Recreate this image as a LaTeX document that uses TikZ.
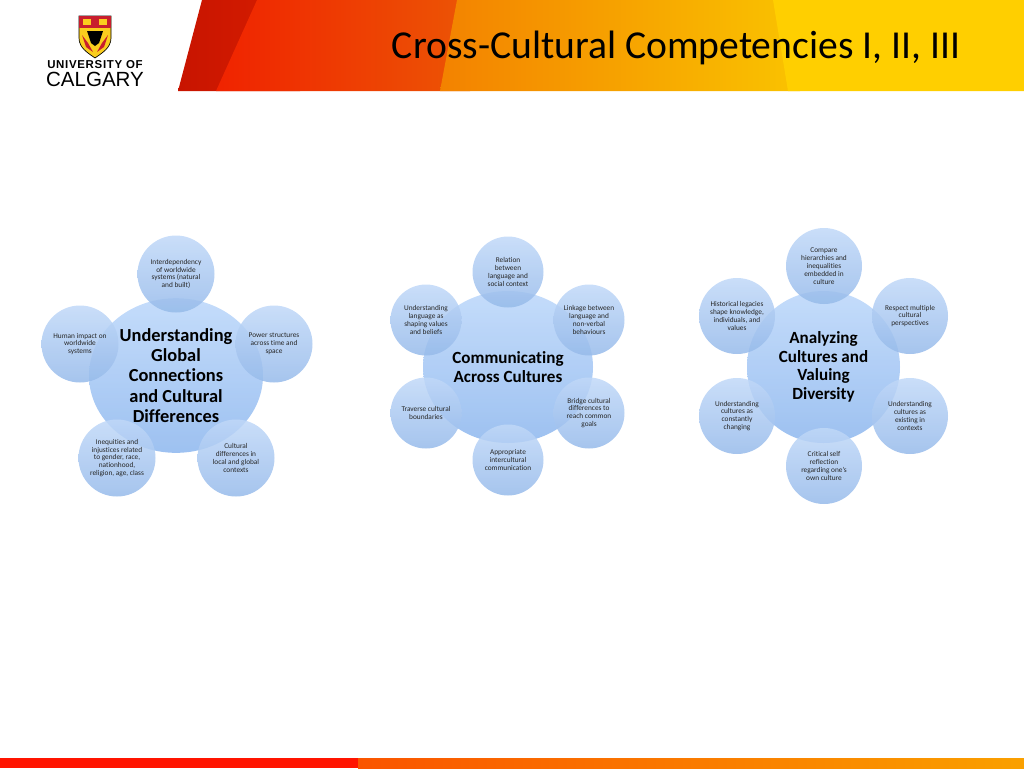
\documentclass[tikz,border=0pt]{standalone}
\usepackage{fontspec}
\setmainfont{Carlito}[Ligatures=NoCommon]
\newfontfamily\logofont{Liberation Sans}
\newfontfamily\logotrack{Liberation Sans}[LetterSpace=6]
\usepackage{tikz}
\usetikzlibrary{shapes.geometric}

\definecolor{sattop}{RGB}{192,216,248}
\definecolor{satbot}{RGB}{150,186,234}
\definecolor{hubtop}{RGB}{186,214,250}
\definecolor{hubbot}{RGB}{140,182,238}
\definecolor{logored}{RGB}{200,30,45}
\definecolor{logoyel}{RGB}{250,205,30}

\tikzset{
  satnode/.style={circle, inner sep=0pt, align=center, text=black!85,
    top color=sattop, bottom color=satbot, fill opacity=0.85, text opacity=1,
    font=\fontsize{5.5}{5.9}\selectfont},
  hubnode/.style={ellipse, inner sep=0pt, align=center, text=black,
    top color=hubtop, bottom color=hubbot, fill opacity=0.85, text opacity=1,
    font=\bfseries\fontsize{13.8}{15.2}\selectfont},
  smallhub/.style={hubnode, font=\bfseries\fontsize{12.8}{14}\selectfont},
  bigsat/.style={satnode, minimum size=57.75pt},
  midsat/.style={satnode, minimum size=53.25pt},
  rgtsat/.style={satnode, minimum size=57pt},
}

\begin{document}
\begin{tikzpicture}[x=0.75pt,y=-0.75pt]
\useasboundingbox (0,0) rectangle (1024,768);

%% banner
\shade[left color={rgb,255:red,200;green,20;blue,0}, right color={rgb,255:red,215;green,30;blue,0}]
  (178,91) -- (202,0) -- (300,0) -- (300,91) -- cycle;
\shade[left color={rgb,255:red,240;green,35;blue,0}, right color={rgb,255:red,236;green,85;blue,5}]
  (216,91) -- (257,0) -- (470,0) -- (470,91) -- cycle;
\shade[left color={rgb,255:red,243;green,130;blue,0}, right color={rgb,255:red,250;green,195;blue,0}]
  (440,91) -- (457,0) -- (800,0) -- (800,91) -- cycle;
\fill[color={rgb,255:red,255;green,207;blue,0}] (788,91) -- (773,0) -- (1024,0) -- (1024,91) -- cycle;
\node (title) at (676,48) {\fontsize{29.7}{31}\selectfont Cross-Cultural Competencies I, II, III};

%% logo
\draw[fill=logoyel, line width=0.5pt] (79,16) -- (111,16) -- (111,38) .. controls (111,48) and (102,53) .. (95,58)
  .. controls (88,53) and (79,48) .. (79,38) -- cycle;
\fill[logored] (79,16) -- (111,16) -- (111,28) -- (79,28) -- cycle;
\fill[logoyel] (83,19) rectangle (91,25);
\fill[logoyel] (99,19) rectangle (107,25);
\fill[black] (87,31) -- (103,31) -- (99,43) -- (95,46) -- (91,43) -- cycle;
\fill[logored] (82,35) -- (88,43) -- (93,52) -- (86,47) -- cycle;
\fill[logored] (108,35) -- (102,43) -- (97,52) -- (104,47) -- cycle;
\node (univ) at (95,65) {\logotrack\bfseries\fontsize{8.6}{9}\selectfont UNIVERSITY OF};
\node (calg) at (95,79) {\logofont\fontsize{15.4}{16}\selectfont CALGARY};

%% first group
\node[hubnode, minimum width=130.5pt, minimum height=116pt] (gc) at (176,375.5)
  {Understanding\\Global\\Connections\\and Cultural\\Differences};
\node[bigsat] (gc1) at (176,274) {Interdependency\\of worldwide\\systems (natural\\and built)};
\node[bigsat] (gc2) at (274,344) {Power structures\\across time and\\space};
\node[bigsat] (gc3) at (236,458) {Cultural\\differences in\\local and global\\contexts};
\node[bigsat] (gc4) at (117,458) {Inequities and\\injustices related\\to gender, race,\\nationhood,\\religion, age, class};
\node[bigsat] (gc5) at (80,344) {Human impact on\\worldwide\\systems};

%% second group
\node[smallhub, minimum width=127.5pt, minimum height=114pt] (ca) at (508,367)
  {Communicating\\Across Cultures};
\node[midsat] (ca1) at (508,272) {Relation\\between\\language and\\social context};
\node[midsat] (ca2) at (589,320) {Linkage between\\language and\\non-verbal\\behaviours};
\node[midsat] (ca3) at (589,413) {Bridge cultural\\differences to\\reach common\\goals};
\node[midsat] (ca4) at (508,460) {Appropriate\\intercultural\\communication};
\node[midsat] (ca5) at (426,413) {Traverse cultural\\boundaries};
\node[midsat] (ca6) at (426,320) {Understanding\\language as\\shaping values\\and beliefs};

%% third group
\node[smallhub, minimum width=114.75pt, minimum height=114pt] (ad) at (823.5,367)
  {Analyzing\\Cultures and\\Valuing\\Diversity};
\node[rgtsat] (ad1) at (824,266) {Compare\\hierarchies and\\inequalities\\embedded in\\culture};
\node[rgtsat] (ad2) at (910,316) {Respect multiple\\cultural\\perspectives};
\node[rgtsat] (ad3) at (910,416) {Understanding\\cultures as\\existing in\\contexts};
\node[rgtsat] (ad4) at (824,466) {Critical self\\reflection\\regarding one's\\own culture};
\node[rgtsat] (ad5) at (737,416) {Understanding\\cultures as\\constantly\\changing};
\node[rgtsat] (ad6) at (737,316) {Historical legacies\\shape knowledge,\\individuals, and\\values};

%% bottom bar
\fill[color={rgb,255:red,255;green,20;blue,0}] (0,758) rectangle (358,768);
\shade[left color={rgb,255:red,250;green,85;blue,0}, right color={rgb,255:red,250;green,160;blue,0}]
  (358,758) rectangle (1024,768);

\end{tikzpicture}
\end{document}
